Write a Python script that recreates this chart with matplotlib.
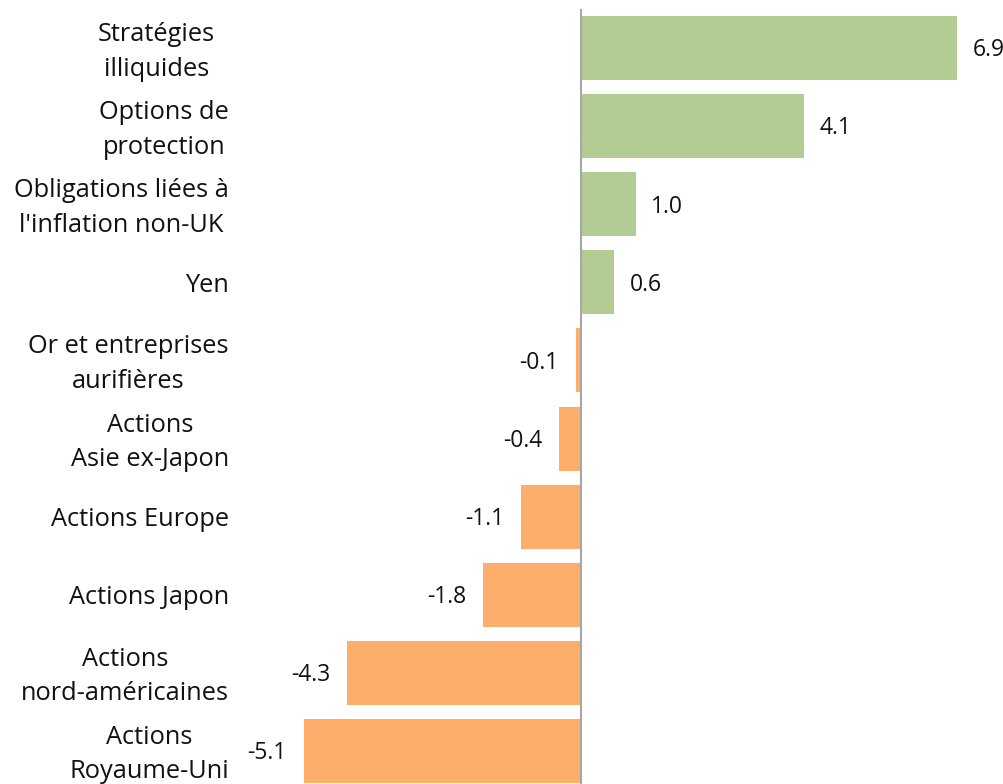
import matplotlib.pyplot as plt
import matplotlib.transforms as mtransforms

categories = ["Stratégies\nilliquides", "Options de\nprotection",
              "Obligations liées à\nl'inflation non-UK", "Yen",
              "Or et entreprises\naurifières", "Actions\nAsie ex-Japon",
              "Actions Europe", "Actions Japon",
              "Actions\nnord-américaines", "Actions\nRoyaume-Uni"]
values = [6.9, 4.1, 1.0, 0.6, -0.1, -0.4, -1.1, -1.8, -4.3, -5.1]

green = '#b3cc94'
orange = '#fdae6a'

plt.rcParams['font.family'] = ['Open Sans', 'DejaVu Sans']

fig = plt.figure(figsize=(10.04, 7.84), dpi=100)
# axes placed in pixels: x from 290 to 962, y from 9 (top) to 790 (below the figure edge)
W, H = 1004, 784
ax = fig.add_axes([290 / W, (H - 790) / H, (962 - 290) / W, 781 / H])

pos = list(range(len(values)))
colors = [green if v > 0 else orange for v in values]
ax.barh(pos, values, height=0.82, color=colors, zorder=2)
ax.axvline(0, color='#a6a6a6', linewidth=1.5, zorder=3)

ax.set_xlim(-5.35, 7.0)
ax.set_ylim(9.5, -0.5)

for p, v in zip(pos, values):
    if v > 0:
        ax.text(v + 0.29, p + 0.03, f"{v:.1f}", ha='left', va='center', fontsize=16.5, color='#111111')
    else:
        ax.text(v - 0.31, p + 0.03, f"{v:.1f}", ha='right', va='center', fontsize=16.5, color='#111111')

ax.set_yticks(pos)
ax.set_yticklabels(categories, fontsize=18.3, color='#111111', multialignment='center', linespacing=1.5)
ax.tick_params(axis='y', length=0, pad=44)
ax.set_xticks([])

# two-line labels sit a little higher; the first one is also further left
for i, lbl in enumerate(ax.get_yticklabels()):
    dx = -14 if i == 0 else 0
    dy = 4 if "\n" in categories[i] else 0
    lbl.set_transform(lbl.get_transform() + mtransforms.ScaledTranslation(dx / 100, dy / 100, fig.dpi_scale_trans))

for s in ax.spines.values():
    s.set_visible(False)

plt.savefig('out.png', dpi=100)
